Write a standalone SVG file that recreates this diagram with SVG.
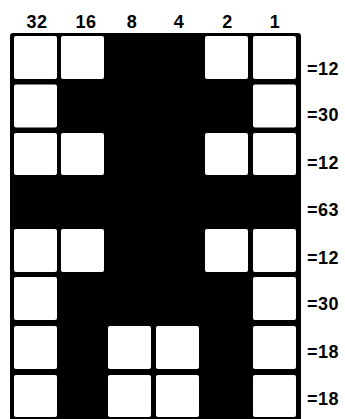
<svg xmlns="http://www.w3.org/2000/svg" width="345" height="419" viewBox="0 0 345 419">
<style>
text{font-family:"Liberation Sans",Arial,sans-serif;font-size:18px;font-weight:bold;fill:#000;letter-spacing:0.5px;}
.h{text-anchor:middle;}
.c{fill:#fff;}
</style>
<rect width="345" height="419" fill="#fff"/>
<g id="headers">
<text class="h" x="37" y="28">32</text>
<text class="h" x="86" y="28">16</text>
<text class="h" x="132" y="28">8</text>
<text class="h" x="179" y="28">4</text>
<text class="h" x="227.5" y="28">2</text>
<text class="h" x="275" y="28">1</text>
</g>
<g id="grid">
<rect x="10" y="33" width="291" height="388" rx="3" fill="#000"/>
</g>
<g id="row1">
<rect class="c" x="14" y="36" width="43" height="43" rx="2"/>
<rect class="c" x="61" y="36" width="43" height="43" rx="2"/>
<rect class="c" x="205" y="36" width="43" height="43" rx="2"/>
<rect class="c" x="253" y="36" width="43" height="43" rx="2"/>
<text x="307" y="75">=12</text>
</g>
<g id="row2">
<rect class="c" x="14" y="84.5" width="43" height="43" rx="2"/>
<rect class="c" x="253" y="84.5" width="43" height="43" rx="2"/>
<text x="307" y="121">=30</text>
</g>
<g id="row3">
<rect class="c" x="14" y="133" width="43" height="42" rx="2"/>
<rect class="c" x="61" y="133" width="43" height="42" rx="2"/>
<rect class="c" x="205" y="133" width="43" height="42" rx="2"/>
<rect class="c" x="253" y="133" width="43" height="42" rx="2"/>
<text x="307" y="169">=12</text>
</g>
<g id="row4">
<text x="307" y="216">=63</text>
</g>
<g id="row5">
<rect class="c" x="14" y="229" width="43" height="43" rx="2"/>
<rect class="c" x="61" y="229" width="43" height="43" rx="2"/>
<rect class="c" x="205" y="229" width="43" height="43" rx="2"/>
<rect class="c" x="253" y="229" width="43" height="43" rx="2"/>
<text x="307" y="264">=12</text>
</g>
<g id="row6">
<rect class="c" x="14" y="277" width="43" height="43" rx="2"/>
<rect class="c" x="253" y="277" width="43" height="43" rx="2"/>
<text x="307" y="310">=30</text>
</g>
<g id="row7">
<rect class="c" x="14" y="326" width="43" height="43" rx="2"/>
<rect class="c" x="108" y="326" width="43" height="43" rx="2"/>
<rect class="c" x="156" y="326" width="43" height="43" rx="2"/>
<rect class="c" x="253" y="326" width="43" height="43" rx="2"/>
<text x="307" y="358">=18</text>
</g>
<g id="row8">
<rect class="c" x="14" y="375" width="43" height="42" rx="2"/>
<rect class="c" x="108" y="375" width="43" height="42" rx="2"/>
<rect class="c" x="156" y="375" width="43" height="42" rx="2"/>
<rect class="c" x="253" y="375" width="43" height="42" rx="2"/>
<text x="307" y="405">=18</text>
</g>
</svg>
